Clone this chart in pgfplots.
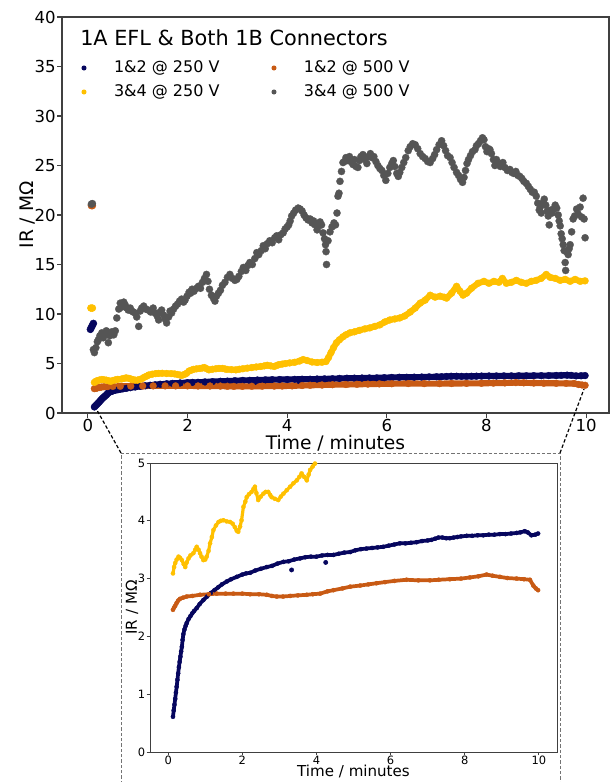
\documentclass[border=0pt]{standalone}
\usepackage{fontspec}
\setmainfont{DejaVu Sans}
\usepackage{pgfplots}
\usepackage{pgfplotstable}
\pgfplotsset{compat=1.18}

\definecolor{cBlue}{HTML}{06065E}
\definecolor{cOrange}{HTML}{C85A14}
\definecolor{cYellow}{HTML}{FFC000}
\definecolor{cGray}{HTML}{555555}

% Insulation resistance (MOhm) against time (minutes)
\pgfplotstableread{
x y
0.13 0.61
0.15 0.72
0.17 0.82
0.19 0.92
0.21 1.03
0.23 1.13
0.25 1.25
0.27 1.36
0.29 1.47
0.31 1.56
0.33 1.65
0.35 1.74
0.37 1.82
0.39 1.94
0.41 2.04
0.44 2.12
0.47 2.18
0.50 2.23
0.55 2.30
0.60 2.35
0.65 2.40
0.70 2.44
0.77 2.49
0.85 2.56
0.95 2.63
1.05 2.69
1.15 2.75
1.25 2.80
1.35 2.85
1.45 2.90
1.58 2.95
1.70 2.99
1.85 3.03
2.00 3.07
2.10 3.09
2.21 3.10
2.35 3.14
2.50 3.17
2.66 3.20
2.80 3.22
2.95 3.26
3.11 3.29
3.25 3.30
3.40 3.33
3.56 3.35
3.70 3.37
3.85 3.38
4.00 3.38
4.15 3.40
4.30 3.41
4.46 3.41
4.60 3.43
4.75 3.45
4.91 3.46
5.05 3.49
5.20 3.51
5.35 3.52
5.50 3.53
5.65 3.54
5.80 3.55
5.95 3.57
6.10 3.59
6.25 3.61
6.40 3.61
6.55 3.62
6.70 3.63
6.85 3.65
7.00 3.66
7.10 3.67
7.20 3.69
7.29 3.71
7.40 3.71
7.50 3.70
7.60 3.70
7.70 3.71
7.80 3.72
7.90 3.73
8.05 3.74
8.20 3.74
8.35 3.75
8.50 3.75
8.65 3.76
8.80 3.76
8.95 3.77
9.10 3.77
9.25 3.78
9.40 3.79
9.50 3.80
9.62 3.82
9.70 3.80
9.80 3.75
9.90 3.76
9.98 3.78
}\blueA
\pgfplotstableread{
x y
0.05 8.45
0.07 8.65
0.09 8.85
0.11 9.05
3.33 3.15
4.25 3.28
}\blueB

\pgfplotstableread{
x y
0.13 2.46
0.16 2.50
0.19 2.53
0.23 2.58
0.27 2.62
0.32 2.65
0.40 2.67
0.50 2.69
0.65 2.70
0.86 2.72
1.10 2.73
1.31 2.74
1.55 2.74
1.76 2.74
2.00 2.74
2.21 2.73
2.45 2.73
2.66 2.72
2.80 2.70
2.93 2.69
3.10 2.69
3.29 2.70
3.50 2.71
3.74 2.72
3.90 2.73
4.10 2.74
4.30 2.78
4.46 2.80
4.70 2.83
4.91 2.86
5.18 2.88
5.40 2.90
5.62 2.92
5.85 2.94
6.10 2.96
6.43 2.98
6.75 2.97
7.06 2.97
7.30 2.98
7.60 2.99
7.90 3.00
8.14 3.02
8.37 3.04
8.59 3.07
8.75 3.05
8.95 3.03
9.15 3.01
9.40 3.00
9.60 2.99
9.76 2.98
9.85 2.88
9.92 2.83
9.98 2.80
}\orangeA
\pgfplotstableread{
x y
0.07 20.95
0.09 20.95
}\orangeB

\pgfplotstableread{
x y
0.13 3.09
0.16 3.20
0.19 3.27
0.23 3.33
0.28 3.38
0.32 3.36
0.37 3.32
0.42 3.25
0.46 3.20
0.50 3.28
0.55 3.35
0.60 3.40
0.68 3.44
0.73 3.50
0.77 3.55
0.82 3.50
0.86 3.44
0.90 3.38
0.95 3.32
1.00 3.33
1.04 3.38
1.09 3.48
1.13 3.61
1.18 3.72
1.22 3.84
1.29 3.92
1.36 3.98
1.42 4.00
1.49 4.01
1.58 3.99
1.67 3.98
1.74 3.95
1.80 3.89
1.85 3.83
1.89 3.81
1.94 3.90
1.98 4.01
2.03 4.24
2.08 4.33
2.12 4.41
2.18 4.46
2.25 4.50
2.30 4.55
2.34 4.59
2.38 4.48
2.43 4.36
2.50 4.42
2.57 4.47
2.63 4.50
2.70 4.50
2.75 4.45
2.79 4.41
2.88 4.38
2.97 4.36
3.04 4.42
3.11 4.47
3.20 4.53
3.29 4.59
3.38 4.65
3.47 4.70
3.54 4.76
3.60 4.82
3.67 4.76
3.74 4.70
3.79 4.80
3.83 4.88
3.90 4.94
3.96 4.99
4.05 5.06
4.15 5.12
4.25 5.25
4.32 5.40
4.40 5.30
4.50 5.15
4.60 5.10
4.70 5.13
4.78 5.20
4.83 5.60
4.88 6.10
4.93 6.60
4.99 7.10
5.05 7.40
5.12 7.70
5.18 7.90
5.26 8.10
5.35 8.20
5.45 8.35
5.56 8.50
5.66 8.60
5.76 8.75
5.86 8.90
5.96 9.20
6.06 9.40
6.16 9.50
6.26 9.60
6.36 9.80
6.47 10.20
6.57 10.60
6.67 11.10
6.77 11.40
6.87 11.90
6.97 11.70
7.07 11.80
7.15 11.70
7.20 11.60
7.30 12.10
7.40 12.80
7.47 12.30
7.53 11.90
7.60 12.10
7.70 12.60
7.83 13.10
7.95 13.30
8.05 13.10
8.15 13.30
8.25 13.20
8.32 13.60
8.40 13.10
8.50 13.20
8.60 13.40
8.70 13.20
8.80 13.10
8.90 13.30
9.00 13.40
9.10 13.60
9.20 14.00
9.28 13.70
9.38 13.60
9.48 13.40
9.58 13.50
9.68 13.30
9.78 13.50
9.88 13.30
9.98 13.35
}\yellowA
\pgfplotstableread{
x y
0.06 10.6
0.09 10.6
}\yellowB

\pgfplotstableread{
x y
0.07 21.1
0.09 21.15
0.11 6.4
0.13 6.1
0.16 6.6
0.19 7.2
0.21 7.4
0.24 7.8
0.28 8.1
0.31 7.6
0.34 7.9
0.37 8.3
0.41 7.1
0.44 7.8
0.48 8.2
0.52 7.9
0.55 8.3
0.58 9.6
0.62 10.5
0.65 11.1
0.68 10.7
0.72 11.2
0.75 10.9
0.78 10.6
0.81 10.4
0.85 10.6
0.88 10.3
0.91 10.2
0.95 10.1
0.98 9.7
1.02 8.75
1.05 10.3
1.08 10.6
1.12 10.8
1.16 10.5
1.21 10.4
1.26 10.2
1.31 10.6
1.35 10.1
1.39 9.8
1.42 9.4
1.45 10.2
1.48 10.4
1.52 9.9
1.55 9.5
1.58 9.1
1.62 9.7
1.65 10.3
1.68 10.1
1.72 10.5
1.76 10.8
1.80 11.0
1.84 11.3
1.88 11.5
1.92 11.2
1.95 11.4
1.99 11.8
2.03 12.2
2.06 12.1
2.09 12.5
2.13 12.3
2.18 12.6
2.22 12.8
2.26 12.6
2.30 13.2
2.34 13.6
2.38 14.0
2.41 13.3
2.44 12.5
2.48 11.9
2.52 11.6
2.55 11.3
2.58 11.8
2.62 12.1
2.66 12.4
2.70 12.9
2.75 13.2
2.80 13.7
2.85 14.0
2.90 13.6
2.95 13.4
2.99 13.5
3.03 13.8
3.08 14.3
3.12 14.7
3.17 14.4
3.21 14.9
3.25 15.2
3.30 15.0
3.35 15.6
3.39 16.2
3.43 16.0
3.48 16.4
3.52 16.9
3.56 16.6
3.60 17.1
3.65 17.4
3.70 17.2
3.75 17.7
3.79 17.9
3.83 17.5
3.87 18.0
3.92 18.2
3.96 18.6
4.00 18.8
4.03 19.0
4.06 19.4
4.09 19.9
4.13 20.2
4.17 20.5
4.22 20.7
4.26 20.6
4.30 20.4
4.34 20.0
4.38 19.7
4.42 19.5
4.46 19.6
4.50 19.2
4.53 19.4
4.56 19.0
4.60 18.5
4.63 18.9
4.66 19.3
4.69 19.0
4.72 18.2
4.75 17.6
4.77 17.0
4.78 16.3
4.79 15.0
4.82 17.4
4.86 18.3
4.90 18.8
4.94 19.2
4.97 19.0
5.00 20.2
5.02 21.9
5.04 22.2
5.06 23.4
5.09 24.4
5.12 25.3
5.15 25.4
5.18 25.8
5.22 25.5
5.25 25.9
5.28 25.4
5.32 25.1
5.35 25.6
5.38 24.9
5.42 24.8
5.45 25.5
5.48 25.9
5.52 26.1
5.56 25.6
5.60 25.2
5.63 25.9
5.67 26.2
5.70 25.8
5.74 25.9
5.78 25.4
5.82 25.0
5.86 24.7
5.90 24.5
5.94 24.0
5.98 23.5
6.02 24.2
6.06 24.8
6.10 25.2
6.13 25.5
6.16 24.9
6.20 24.2
6.23 23.9
6.26 24.3
6.30 24.8
6.34 25.3
6.38 25.8
6.43 26.5
6.47 26.9
6.52 27.2
6.57 27.1
6.62 26.7
6.67 26.2
6.72 25.9
6.77 25.7
6.82 25.4
6.87 25.3
6.92 25.7
6.96 26.1
7.00 26.6
7.05 27.1
7.10 27.5
7.14 27.0
7.18 26.5
7.22 26.0
7.27 25.8
7.31 25.3
7.35 24.8
7.40 24.3
7.44 24.0
7.48 23.6
7.52 23.3
7.55 23.8
7.58 24.5
7.61 25.2
7.64 25.6
7.68 26.0
7.72 26.4
7.77 26.6
7.80 27.0
7.84 27.2
7.88 27.5
7.92 27.8
7.95 27.6
7.98 26.9
8.01 26.4
8.04 26.7
8.07 26.6
8.10 26.2
8.14 25.6
8.17 25.0
8.20 25.6
8.24 25.2
8.28 24.9
8.33 25.3
8.37 24.8
8.42 24.5
8.47 24.6
8.51 24.3
8.55 24.2
8.59 24.4
8.63 24.0
8.67 23.9
8.71 23.7
8.75 23.4
8.80 23.2
8.84 22.9
8.88 22.6
8.92 22.3
8.96 22.3
9.00 21.9
9.03 21.2
9.06 20.5
9.08 20.8
9.10 20.2
9.13 21.2
9.16 21.6
9.19 21.0
9.22 20.4
9.24 19.9
9.26 19.0
9.29 20.5
9.32 20.2
9.35 20.6
9.38 21.0
9.41 20.7
9.44 20.0
9.46 19.4
9.48 18.9
9.50 18.1
9.52 17.6
9.54 17.0
9.56 16.4
9.58 15.2
9.59 14.4
9.61 16.3
9.64 16.0
9.66 16.6
9.68 17.0
9.71 18.3
9.74 19.6
9.77 19.9
9.81 20.6
9.84 20.1
9.88 20.8
9.91 19.8
9.94 21.7
9.96 19.6
9.98 17.7
}\grayA

\pgfplotsset{
  irbase/.style={
    tick align=outside, tick pos=left,
    axis line style={black!75},
    every tick/.style={black!75},
    /pgf/number format/assume math mode=true,
    xtick={0,2,...,10},
  },
}

\begin{document}
\begin{tikzpicture}
\useasboundingbox (0pt,0pt) rectangle (459pt,-586.5pt);

% overview axis
\begin{axis}[irbase,
  at={(46.5pt,-309.75pt)}, anchor=south west,
  scale only axis, width=410.25pt, height=297pt,
  xmin=-0.52, xmax=10.46, ymin=0, ymax=40,
  ytick={0,5,...,40},
  major tick length=3.5pt,
  axis line style={line width=0.9pt},
  every tick/.append style={line width=0.8pt},
  tick label style={font=\fontsize{12.4}{14}\selectfont},
  xticklabel style={inner sep=1pt},
  yticklabel style={inner sep=1pt},
  label style={font=\fontsize{14}{16}\selectfont},
  xlabel={Time / minutes}, ylabel={IR / MΩ},
  xlabel style={at={(axis description cs:0.5,-0.0758)}, anchor=center},
  ylabel style={at={(axis description cs:-0.064,0.5)}, anchor=center},
  legend columns=2,
  legend cell align=left,
  legend image code/.code={\fill[#1, draw=none, line width=0pt] (0pt,0pt) circle (1.9pt);},
  legend style={draw=none, fill=none, inner sep=0pt, outer sep=0pt,
    at={(axis description cs:0.0356,0.894)}, anchor=north west,
    font=\fontsize{12}{14}\selectfont,
    nodes={inner sep=1pt, text height=9pt, text depth=2.5pt},
    row sep=4.5pt,
    /tikz/every odd column/.append style={column sep=19.6pt},
    /tikz/every even column/.append style={column sep=37.9pt}},
]
\addplot[cBlue, line width=4.6pt, line join=round, line cap=round,
  mark=*, mark size=2.6pt, mark options={line width=0.2pt}] table {\blueA};
\addlegendentry{1\&2 @ 250 V}
\addplot[cBlue, only marks, mark=*, mark size=2.6pt, forget plot] table {\blueB};
\addplot[cOrange, line width=4.6pt, line join=round, line cap=round,
  mark=*, mark size=2.6pt, mark options={line width=0.2pt}] table {\orangeA};
\addlegendentry{1\&2 @ 500 V}
\addplot[cOrange, only marks, mark=*, mark size=2.6pt, forget plot] table {\orangeB};
\addplot[cYellow, line width=4.6pt, line join=round, line cap=round,
  mark=*, mark size=2.6pt, mark options={line width=0.2pt}] table {\yellowA};
\addlegendentry{3\&4 @ 250 V}
\addplot[cYellow, only marks, mark=*, mark size=2.6pt, forget plot] table {\yellowB};
\addplot[cGray, only marks, mark=*, mark size=2.7pt, mark options={line width=0.2pt}] table {\grayA};
\addlegendentry{3\&4 @ 500 V}
\node[anchor=west, inner sep=0pt, font=\fontsize{15.6}{18}\selectfont]
  at (axis description cs:0.0329,0.947) {1A EFL \& Both 1B Connectors};
\end{axis}

% zoomed view of the low range
\begin{axis}[irbase,
  at={(112.5pt,-564pt)}, anchor=south west,
  scale only axis, width=305.25pt, height=216.75pt,
  xmin=-0.49, xmax=10.49, ymin=0, ymax=5,
  ytick={0,1,...,5},
  major tick length=2.5pt,
  axis line style={line width=0.7pt},
  every tick/.append style={line width=0.6pt},
  tick label style={font=\fontsize{8.6}{10}\selectfont},
  xticklabel style={inner sep=0.5pt},
  yticklabel style={inner sep=1pt},
  label style={font=\fontsize{11.3}{13}\selectfont},
  xlabel={Time / minutes}, ylabel={IR / MΩ},
  xlabel style={at={(axis description cs:0.5,-0.069)}, anchor=center},
  ylabel style={at={(axis description cs:-0.044,0.5)}, anchor=center},
]
\addplot[cBlue, line width=2.8pt, line join=round, line cap=round,
  mark=*, mark size=1.6pt, mark options={line width=0.2pt}] table {\blueA};
\addplot[cBlue, only marks, mark=*, mark size=1.6pt] table {\blueB};
\addplot[cOrange, line width=2.8pt, line join=round, line cap=round,
  mark=*, mark size=1.6pt, mark options={line width=0.2pt}] table {\orangeA};
\addplot[cYellow, line width=2.4pt, line join=round, line cap=round,
  mark=*, mark size=1.6pt, mark options={line width=0.2pt}] table {\yellowA};
\addplot[cGray, only marks, mark=*, mark size=1.6pt] table {\grayA};
\end{axis}

% frame of the zoomed view and its connectors
\draw[black!55, line width=0.6pt, dash pattern=on 2.4pt off 1.6pt]
  (90.75pt,-600pt) -- (90.75pt,-339.75pt) -- (420pt,-339.75pt) -- (420pt,-600pt);
\draw[black, line width=0.9pt, dash pattern=on 2.6pt off 1.6pt]
  (90.75pt,-339.75pt) -- (73.1pt,-308.3pt);
\draw[black, line width=0.9pt, dash pattern=on 2.6pt off 1.6pt]
  (420pt,-339.75pt) -- (438pt,-291.75pt);
\end{tikzpicture}
\end{document}
